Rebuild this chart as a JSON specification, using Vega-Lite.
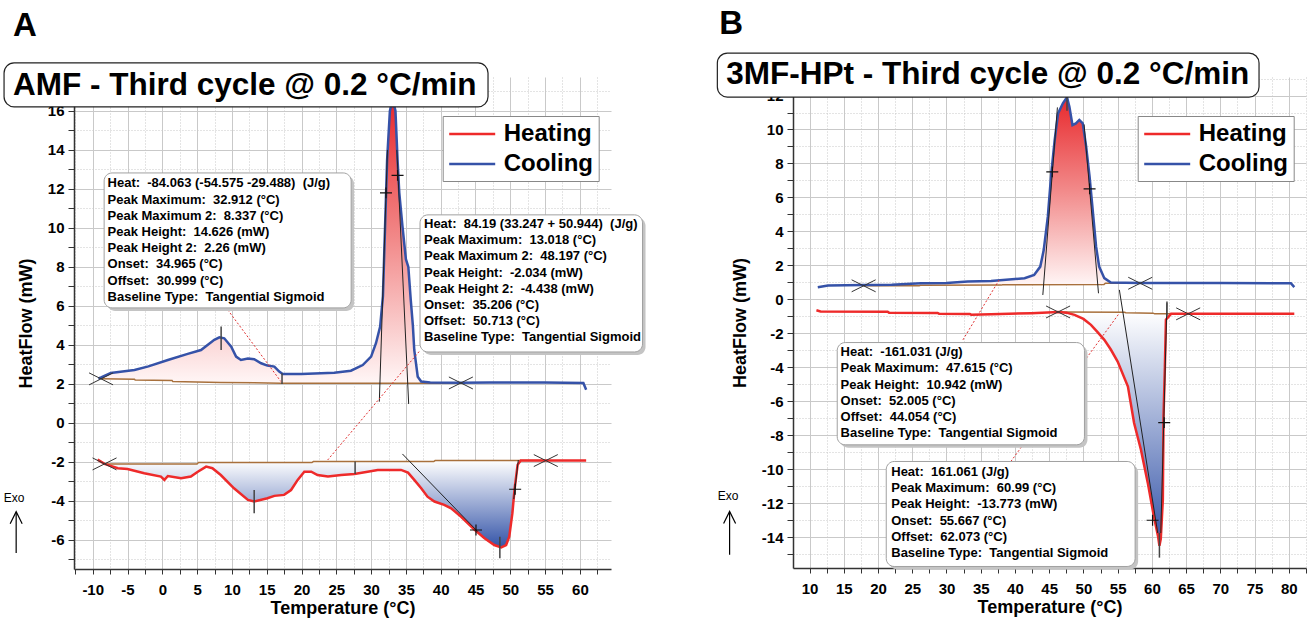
{
 "$schema": "https://vega.github.io/schema/vega-lite/v6.json",
 "background": "white",
 "autosize": {"type": "pad"},
 "padding": {"left": 3, "top": 7, "right": 4, "bottom": 4},
 "bounds": "flush",
 "spacing": 182,
 "config": {
  "font": "Liberation Sans",
  "view": {"stroke": null},
  "axis": {"labelFont": "Liberation Sans", "labelFontSize": 15, "labelFontWeight": "bold", "labelColor": "#000000", "titleFont": "Liberation Sans", "titleFontSize": 18, "titleFontWeight": "bold", "titleColor": "#000000", "domainColor": "#333333", "domainWidth": 1.5, "tickColor": "#333333", "tickWidth": 1, "gridColor": "#c9c9c9", "gridWidth": 1, "labelOverlap": false, "labelFlush": false, "labelBound": false},
  "axisX": {"tickSize": 5, "labelPadding": 8},
  "axisY": {"tickSize": 6, "labelPadding": 4, "titleAngle": -90, "titleBaseline": "alphabetic", "titleAlign": "center"}
 },
 "resolve": {"scale": {"x": "independent", "y": "independent"}, "legend": {"color": "independent"}},
 "datasets": {
  "curvesA": [
   {"s":"Cooling","T":-9.2,"V":2.28},
   {"s":"Cooling","T":-8.8,"V":2.33,"B":2.26},
   {"s":"Cooling","T":-7.4,"V":2.56,"B":2.25},
   {"s":"Cooling","T":-6.0,"V":2.62,"B":2.24},
   {"s":"Cooling","T":-4.0,"V":2.72,"B":2.22},
   {"s":"Cooling","T":-2.0,"V":2.9,"B":2.19},
   {"s":"Cooling","T":0.8,"V":3.23,"B":2.17},
   {"s":"Cooling","T":3.65,"V":3.54,"B":2.12},
   {"s":"Cooling","T":5.56,"V":3.74,"B":2.1},
   {"s":"Cooling","T":7.47,"V":4.26,"B":2.08},
   {"s":"Cooling","T":8.2,"V":4.39,"B":2.08},
   {"s":"Cooling","T":8.9,"V":4.34,"B":2.07},
   {"s":"Cooling","T":9.9,"V":3.91,"B":2.07},
   {"s":"Cooling","T":10.6,"V":3.4,"B":2.06},
   {"s":"Cooling","T":11.3,"V":3.23,"B":2.06},
   {"s":"Cooling","T":12.3,"V":3.3,"B":2.06},
   {"s":"Cooling","T":13.2,"V":3.27,"B":2.05},
   {"s":"Cooling","T":14.2,"V":3.06,"B":2.05},
   {"s":"Cooling","T":15.1,"V":2.94,"B":2.05},
   {"s":"Cooling","T":16.1,"V":2.89,"B":2.05},
   {"s":"Cooling","T":16.8,"V":2.63,"B":2.04},
   {"s":"Cooling","T":17.3,"V":2.51,"B":2.04},
   {"s":"Cooling","T":20.0,"V":2.51,"B":2.04},
   {"s":"Cooling","T":24.7,"V":2.58,"B":2.04},
   {"s":"Cooling","T":27.1,"V":2.68,"B":2.04},
   {"s":"Cooling","T":28.8,"V":2.97,"B":2.04},
   {"s":"Cooling","T":30.0,"V":3.4,"B":2.04},
   {"s":"Cooling","T":30.7,"V":4.09,"B":2.04},
   {"s":"Cooling","T":31.3,"V":4.94,"B":2.04},
   {"s":"Cooling","T":31.7,"V":6.5,"B":2.04},
   {"s":"Cooling","T":32.0,"V":10.0,"B":2.04},
   {"s":"Cooling","T":32.3,"V":13.5,"B":2.04},
   {"s":"Cooling","T":32.7,"V":16.0,"B":2.04},
   {"s":"Cooling","T":33.1,"V":16.6,"B":2.04},
   {"s":"Cooling","T":33.5,"V":16.0,"B":2.04},
   {"s":"Cooling","T":33.8,"V":13.5,"B":2.04},
   {"s":"Cooling","T":34.05,"V":11.8,"B":2.04},
   {"s":"Cooling","T":34.5,"V":10.1,"B":2.04},
   {"s":"Cooling","T":35.0,"V":8.4,"B":2.04},
   {"s":"Cooling","T":35.35,"V":8.0,"B":2.04},
   {"s":"Cooling","T":35.7,"V":6.3,"B":2.04},
   {"s":"Cooling","T":36.0,"V":5.0,"B":2.04},
   {"s":"Cooling","T":36.2,"V":3.74,"B":2.04},
   {"s":"Cooling","T":36.7,"V":2.37,"B":2.04},
   {"s":"Cooling","T":37.2,"V":2.12,"B":2.04},
   {"s":"Cooling","T":38.5,"V":2.08,"B":2.04},
   {"s":"Cooling","T":42.9,"V":2.06,"B":2.05},
   {"s":"Cooling","T":47.0,"V":2.08},
   {"s":"Cooling","T":55.0,"V":2.07},
   {"s":"Cooling","T":60.5,"V":2.05},
   {"s":"Cooling","T":60.9,"V":1.7},
   {"s":"Heating","T":-9.3,"V":-1.88},
   {"s":"Heating","T":-8.3,"V":-2.1,"B":-2.1},
   {"s":"Heating","T":-6.4,"V":-2.32,"B":-2.1},
   {"s":"Heating","T":-5.0,"V":-2.36,"B":-2.1},
   {"s":"Heating","T":-2.6,"V":-2.58,"B":-2.1},
   {"s":"Heating","T":-0.2,"V":-2.75,"B":-2.1},
   {"s":"Heating","T":0.3,"V":-2.92,"B":-2.1},
   {"s":"Heating","T":0.8,"V":-2.72,"B":-2.1},
   {"s":"Heating","T":2.7,"V":-2.84,"B":-2.1},
   {"s":"Heating","T":4.1,"V":-2.75,"B":-2.1},
   {"s":"Heating","T":5.1,"V":-2.5,"B":-2.03},
   {"s":"Heating","T":6.3,"V":-2.24,"B":-2.03},
   {"s":"Heating","T":7.2,"V":-2.32,"B":-2.03},
   {"s":"Heating","T":8.4,"V":-2.67,"B":-2.03},
   {"s":"Heating","T":10.3,"V":-3.35,"B":-2.03},
   {"s":"Heating","T":12.3,"V":-3.95,"B":-2.03},
   {"s":"Heating","T":13.2,"V":-4.03,"B":-2.03},
   {"s":"Heating","T":15.1,"V":-3.86,"B":-2.03},
   {"s":"Heating","T":16.1,"V":-3.74,"B":-2.03},
   {"s":"Heating","T":17.5,"V":-3.69,"B":-2.03},
   {"s":"Heating","T":18.5,"V":-3.44,"B":-2.03},
   {"s":"Heating","T":19.45,"V":-2.92,"B":-2.03},
   {"s":"Heating","T":20.4,"V":-2.5,"B":-2.03},
   {"s":"Heating","T":21.4,"V":-2.5,"B":-2.02},
   {"s":"Heating","T":22.3,"V":-2.67,"B":-1.98},
   {"s":"Heating","T":23.8,"V":-2.75,"B":-1.98},
   {"s":"Heating","T":25.7,"V":-2.67,"B":-1.98},
   {"s":"Heating","T":27.6,"V":-2.62,"B":-1.98},
   {"s":"Heating","T":29.5,"V":-2.5,"B":-1.98},
   {"s":"Heating","T":30.95,"V":-2.41,"B":-1.98},
   {"s":"Heating","T":34.3,"V":-2.41,"B":-1.98},
   {"s":"Heating","T":35.3,"V":-2.55,"B":-1.98},
   {"s":"Heating","T":36.2,"V":-2.92,"B":-1.98},
   {"s":"Heating","T":37.2,"V":-3.35,"B":-1.98},
   {"s":"Heating","T":38.1,"V":-3.78,"B":-1.98},
   {"s":"Heating","T":39.1,"V":-4.03,"B":-1.93},
   {"s":"Heating","T":40.5,"V":-4.2,"B":-1.93},
   {"s":"Heating","T":41.5,"V":-4.38,"B":-1.93},
   {"s":"Heating","T":42.9,"V":-4.8,"B":-1.93},
   {"s":"Heating","T":44.8,"V":-5.45,"B":-1.93},
   {"s":"Heating","T":46.3,"V":-5.91,"B":-1.93},
   {"s":"Heating","T":47.7,"V":-6.26,"B":-1.93},
   {"s":"Heating","T":48.7,"V":-6.38,"B":-1.93},
   {"s":"Heating","T":49.4,"V":-6.26,"B":-1.93},
   {"s":"Heating","T":49.85,"V":-5.83,"B":-1.93},
   {"s":"Heating","T":50.3,"V":-4.63,"B":-1.93},
   {"s":"Heating","T":50.6,"V":-3.44,"B":-1.93},
   {"s":"Heating","T":51.05,"V":-2.15,"B":-1.93},
   {"s":"Heating","T":51.5,"V":-1.93,"B":-1.93},
   {"s":"Heating","T":55.1,"V":-1.93,"B":-1.93},
   {"s":"Heating","T":60.9,"V":-1.93}
  ],
  "baseA": [
   {"s":"Cooling","T":-8.8,"V":2.26},{"s":"Cooling","T":-4.0,"V":2.24},{"s":"Cooling","T":-3.9,"V":2.2},{"s":"Cooling","T":1.4,"V":2.18},{"s":"Cooling","T":1.5,"V":2.13},{"s":"Cooling","T":8.4,"V":2.08},{"s":"Cooling","T":17.0,"V":2.04},{"s":"Cooling","T":40.0,"V":2.04},{"s":"Cooling","T":42.9,"V":2.05},
   {"s":"Heating","T":-8.3,"V":-2.1},{"s":"Heating","T":5.0,"V":-2.1},{"s":"Heating","T":5.2,"V":-2.03},{"s":"Heating","T":21.5,"V":-2.03},{"s":"Heating","T":21.7,"V":-1.98},{"s":"Heating","T":39.0,"V":-1.98},{"s":"Heating","T":39.2,"V":-1.93},{"s":"Heating","T":55.1,"V":-1.93}
  ],
  "segA": [
   {"k":"tan","T":31.18,"V":1.09,"T2":32.35,"V2":14.0},
   {"k":"tan","T":35.4,"V":0.97,"T2":33.7,"V2":14.0},
   {"k":"tan","T":34.5,"V":-1.59,"T2":45.3,"V2":-5.57},
   {"k":"tan","T":51.15,"V":-1.9,"T2":50.5,"V2":-3.9},
   {"k":"vm","T":8.45,"V":3.74,"T2":8.45,"V2":4.94},
   {"k":"vm","T":17.2,"V":2.0,"T2":17.2,"V2":2.55},
   {"k":"vm","T":13.2,"V":-3.44,"T2":13.2,"V2":-4.63},
   {"k":"vm","T":27.7,"V":-1.98,"T2":27.7,"V2":-2.62},
   {"k":"vm","T":48.5,"V":-5.83,"T2":48.5,"V2":-6.94},
   {"k":"dot","T":9.4,"V":5.8,"T2":17.05,"V2":2.12},
   {"k":"dot","T":36.9,"V":3.66,"T2":23.76,"V2":-1.9},
   {"k":"arrow","T":-21.0,"V":-6.67,"T2":-21.0,"V2":-4.6}
  ],
  "ptsA": [
   {"k":"x","T":-8.8,"V":2.26},{"k":"x","T":42.9,"V":2.05},{"k":"x","T":-8.3,"V":-2.1},{"k":"x","T":55.1,"V":-1.93},
   {"k":"plus","T":32.14,"V":11.8},{"k":"plus","T":33.8,"V":12.7},{"k":"plus","T":45.07,"V":-5.49},{"k":"plus","T":50.7,"V":-3.4},
   {"k":"head","T":-21.0,"V":-4.55}
  ],
  "boxA": [
   {"k":"title","T":-22.74,"V":18.46,"T2":46.8,"V2":16.21},
   {"k":"note","T":-8.36,"V":12.82,"T2":27.13,"V2":5.9},
   {"k":"note","T":37.03,"V":10.67,"T2":69.0,"V2":3.64}
  ],
  "txtA": [
   {"k":"title","T":-21.45,"V":17.28,"text":"AMF - Third cycle @ 0.2 °C/min"},
   {"k":"letter","T":-21.45,"V":20.38,"text":"A"},
   {"k":"exo","T":-21.3,"V":-3.83,"text":"Exo"},
   {"k":"note","T":-7.87,"V":12.59,"text":"Heat:\u00a0 -84.063 (-54.575 -29.488)\u00a0 (J/g)\nPeak Maximum:\u00a0 32.912 (°C)\nPeak Maximum 2:\u00a0 8.337 (°C)\nPeak Height:\u00a0 14.626 (mW)\nPeak Height 2:\u00a0 2.26 (mW)\nOnset:\u00a0 34.965 (°C)\nOffset:\u00a0 30.999 (°C)\nBaseline Type:\u00a0 Tangential Sigmoid"},
   {"k":"note","T":37.6,"V":10.51,"text":"Heat:\u00a0 84.19 (33.247 + 50.944)\u00a0 (J/g)\nPeak Maximum:\u00a0 13.018 (°C)\nPeak Maximum 2:\u00a0 48.197 (°C)\nPeak Height:\u00a0 -2.034 (mW)\nPeak Height 2:\u00a0 -4.438 (mW)\nOnset:\u00a0 35.206 (°C)\nOffset:\u00a0 50.713 (°C)\nBaseline Type:\u00a0 Tangential Sigmoid"}
  ],
  "curvesB": [
   {"s":"Cooling","T":11.2,"V":0.72},
   {"s":"Cooling","T":12.7,"V":0.82},
   {"s":"Cooling","T":17.9,"V":0.84,"B":0.8},
   {"s":"Cooling","T":22.0,"V":0.86,"B":0.8},
   {"s":"Cooling","T":26.3,"V":0.95,"B":0.82},
   {"s":"Cooling","T":30.0,"V":0.97,"B":0.83},
   {"s":"Cooling","T":33.1,"V":1.05,"B":0.84},
   {"s":"Cooling","T":36.5,"V":1.08,"B":0.85},
   {"s":"Cooling","T":41.4,"V":1.25,"B":0.86},
   {"s":"Cooling","T":42.8,"V":1.44,"B":0.86},
   {"s":"Cooling","T":43.7,"V":1.93,"B":0.86},
   {"s":"Cooling","T":44.2,"V":2.9,"B":0.86},
   {"s":"Cooling","T":44.8,"V":4.87,"B":0.86},
   {"s":"Cooling","T":45.3,"V":7.4,"B":0.86},
   {"s":"Cooling","T":45.8,"V":9.38,"B":0.86},
   {"s":"Cooling","T":46.3,"V":10.95,"B":0.86},
   {"s":"Cooling","T":47.0,"V":11.54,"B":0.86},
   {"s":"Cooling","T":47.6,"V":11.9,"B":0.86},
   {"s":"Cooling","T":47.95,"V":11.34,"B":0.86},
   {"s":"Cooling","T":48.4,"V":10.26,"B":0.86},
   {"s":"Cooling","T":48.9,"V":10.36,"B":0.86},
   {"s":"Cooling","T":49.4,"V":10.56,"B":0.86},
   {"s":"Cooling","T":49.9,"V":10.36,"B":0.86},
   {"s":"Cooling","T":50.4,"V":8.99,"B":0.86},
   {"s":"Cooling","T":50.9,"V":7.22,"B":0.86},
   {"s":"Cooling","T":51.4,"V":5.07,"B":0.86},
   {"s":"Cooling","T":51.85,"V":3.1,"B":0.86},
   {"s":"Cooling","T":52.3,"V":1.93,"B":0.86},
   {"s":"Cooling","T":53.05,"V":1.25,"B":0.88},
   {"s":"Cooling","T":54.0,"V":0.99,"B":0.94},
   {"s":"Cooling","T":58.3,"V":0.97,"B":0.95},
   {"s":"Cooling","T":70.0,"V":0.97},
   {"s":"Cooling","T":80.3,"V":0.95},
   {"s":"Cooling","T":80.8,"V":0.72},
   {"s":"Heating","T":11.0,"V":-0.64},
   {"s":"Heating","T":11.6,"V":-0.71},
   {"s":"Heating","T":21.4,"V":-0.73},
   {"s":"Heating","T":21.6,"V":-0.78},
   {"s":"Heating","T":28.7,"V":-0.8},
   {"s":"Heating","T":28.9,"V":-0.84},
   {"s":"Heating","T":33.4,"V":-0.86},
   {"s":"Heating","T":33.6,"V":-0.9},
   {"s":"Heating","T":36.5,"V":-0.88},
   {"s":"Heating","T":42.4,"V":-0.81},
   {"s":"Heating","T":46.3,"V":-0.74,"B":-0.74},
   {"s":"Heating","T":47.5,"V":-0.78,"B":-0.74},
   {"s":"Heating","T":48.7,"V":-0.91,"B":-0.75},
   {"s":"Heating","T":50.0,"V":-1.15,"B":-0.75},
   {"s":"Heating","T":51.1,"V":-1.5,"B":-0.75},
   {"s":"Heating","T":52.0,"V":-1.9,"B":-0.76},
   {"s":"Heating","T":53.05,"V":-2.38,"B":-0.76},
   {"s":"Heating","T":54.0,"V":-2.95,"B":-0.76},
   {"s":"Heating","T":55.0,"V":-3.66,"B":-0.77},
   {"s":"Heating","T":56.5,"V":-5.13,"B":-0.78},
   {"s":"Heating","T":57.4,"V":-7.28,"B":-0.79},
   {"s":"Heating","T":58.4,"V":-8.85,"B":-0.8},
   {"s":"Heating","T":59.4,"V":-10.8,"B":-0.8},
   {"s":"Heating","T":60.3,"V":-12.8,"B":-0.81},
   {"s":"Heating","T":60.9,"V":-13.95,"B":-0.82},
   {"s":"Heating","T":61.1,"V":-14.5,"B":-0.82},
   {"s":"Heating","T":61.3,"V":-14.1,"B":-0.82},
   {"s":"Heating","T":61.6,"V":-11.8,"B":-0.83},
   {"s":"Heating","T":61.7,"V":-6.9,"B":-0.83},
   {"s":"Heating","T":61.9,"V":-3.95,"B":-0.84},
   {"s":"Heating","T":62.05,"V":-1.2,"B":-0.84},
   {"s":"Heating","T":62.8,"V":-0.85,"B":-0.85},
   {"s":"Heating","T":65.3,"V":-0.85,"B":-0.85},
   {"s":"Heating","T":80.8,"V":-0.85}
  ],
  "baseB": [
   {"s":"Cooling","T":17.9,"V":0.8},{"s":"Cooling","T":26.0,"V":0.8},{"s":"Cooling","T":26.2,"V":0.83},{"s":"Cooling","T":38.0,"V":0.84},{"s":"Cooling","T":38.2,"V":0.86},{"s":"Cooling","T":53.0,"V":0.87},{"s":"Cooling","T":53.2,"V":0.95},{"s":"Cooling","T":58.3,"V":0.95},
   {"s":"Heating","T":46.3,"V":-0.74},{"s":"Heating","T":56.0,"V":-0.76},{"s":"Heating","T":56.2,"V":-0.79},{"s":"Heating","T":60.2,"V":-0.81},{"s":"Heating","T":60.4,"V":-0.85},{"s":"Heating","T":65.3,"V":-0.85}
  ],
  "segB": [
   {"k":"tan","T":44.07,"V":0.26,"T2":46.2,"V2":11.3},
   {"k":"tan","T":52.2,"V":0.36,"T2":50.1,"V2":10.3},
   {"k":"tan","T":55.25,"V":0.56,"T2":60.85,"V2":-13.75},
   {"k":"tan","T":62.2,"V":-0.22,"T2":61.3,"V2":-13.75},
   {"k":"vm","T":47.6,"V":11.1,"T2":47.6,"V2":12.9},
   {"k":"vm","T":61.1,"V":-13.75,"T2":61.1,"V2":-15.2},
   {"k":"vm","T":62.2,"V":-0.13,"T2":62.2,"V2":-1.0},
   {"k":"dot","T":32.4,"V":-2.38,"T2":37.7,"V2":1.15},
   {"k":"dot","T":39.4,"V":-9.54,"T2":55.25,"V2":-0.81},
   {"k":"arrow","T":-1.68,"V":-15.03,"T2":-1.68,"V2":-12.52}
  ],
  "ptsB": [
   {"k":"x","T":17.9,"V":0.8},{"k":"x","T":58.3,"V":0.95},{"k":"x","T":46.3,"V":-0.74},{"k":"x","T":65.3,"V":-0.85},
   {"k":"plus","T":45.45,"V":7.5},{"k":"plus","T":50.9,"V":6.5},{"k":"plus","T":60.1,"V":-13.0},{"k":"plus","T":61.8,"V":-7.25},
   {"k":"head","T":-1.68,"V":-12.48}
  ],
  "boxB": [
   {"k":"title","T":-3.47,"V":14.5,"T2":75.65,"V2":11.91},
   {"k":"note","T":14.04,"V":-2.54,"T2":50.15,"V2":-8.56},
   {"k":"note","T":21.2,"V":-9.54,"T2":57.55,"V2":-15.72}
  ],
  "txtB": [
   {"k":"title","T":-2.17,"V":13.21,"text":"3MF-HPt - Third cycle @ 0.2 °C/min"},
   {"k":"letter","T":-3.18,"V":16.21,"text":"B"},
   {"k":"exo","T":-1.91,"V":-11.6,"text":"Exo"},
   {"k":"note","T":14.53,"V":-2.75,"text":"Heat:\u00a0 -161.031 (J/g)\nPeak Maximum:\u00a0 47.615 (°C)\nPeak Height:\u00a0 10.942 (mW)\nOnset:\u00a0 52.005 (°C)\nOffset:\u00a0 44.054 (°C)\nBaseline Type:\u00a0 Tangential Sigmoid"},
   {"k":"note","T":21.93,"V":-9.81,"text":"Heat:\u00a0 161.061 (J/g)\nPeak Maximum:\u00a0 60.99 (°C)\nPeak Height:\u00a0 -13.773 (mW)\nOnset:\u00a0 55.667 (°C)\nOffset:\u00a0 62.073 (°C)\nBaseline Type:\u00a0 Tangential Sigmoid"}
  ]
 },
 "hconcat": [
  {
   "width": 537, "height": 492,
   "encoding": {
    "x": {"field": "T", "type": "quantitative", "scale": {"domain": [-12.69, 64.47], "nice": false, "zero": false},
     "axis": {"title": "Temperature (°C)", "values": [-12.5,-10,-7.5,-5,-2.5,0,2.5,5,7.5,10,12.5,15,17.5,20,22.5,25,27.5,30,32.5,35,37.5,40,42.5,45,47.5,50,52.5,55,57.5,60,62.5],
      "labelExpr": "datum.value % 5 === 0 ? '' + datum.value : ''",
      "gridDash": {"condition": {"test": "datum.value % 5 !== 0", "value": [1, 2]}, "value": []},
      "titleY": 44.5, "titleBaseline": "alphabetic"}},
    "y": {"field": "V", "type": "quantitative", "scale": {"domain": [-7.49, 17.74], "nice": false, "zero": false},
     "axis": {"title": "HeatFlow (mW)", "values": [-7,-6,-5,-4,-3,-2,-1,0,1,2,3,4,5,6,7,8,9,10,11,12,13,14,15,16,17],
      "labelExpr": "datum.value % 2 === 0 ? '' + datum.value : ''",
      "gridDash": {"condition": {"test": "datum.value % 2 !== 0", "value": [1, 2]}, "value": []},
      "titleX": -43, "titleY": 246}}
   },
   "layer": [
    {"data": {"name": "curvesA"}, "transform": [{"filter": "datum.s === 'Cooling' && isValid(datum.B)"}],
     "mark": {"type": "area", "fill": {"gradient": "linear", "x1": 0, "y1": 0, "x2": 0, "y2": 1, "stops": [{"offset": 0, "color": "#e8282c"}, {"offset": 0.5, "color": "#f28b8b"}, {"offset": 1, "color": "#fff6f6"}]}},
     "encoding": {"y2": {"field": "B"}}},
    {"data": {"name": "curvesA"}, "transform": [{"filter": "datum.s === 'Heating' && isValid(datum.B)"}],
     "mark": {"type": "area", "fill": {"gradient": "linear", "x1": 0, "y1": 0, "x2": 0, "y2": 1, "stops": [{"offset": 0, "color": "#ffffff"}, {"offset": 1, "color": "#3454a8"}]}},
     "encoding": {"y2": {"field": "B"}}},
    {"data": {"name": "baseA"}, "mark": {"type": "line", "stroke": "#a8703c", "strokeWidth": 1.5}, "encoding": {"detail": {"field": "s"}}},
    {"data": {"name": "curvesA"}, "mark": {"type": "line", "strokeWidth": 2.5},
     "encoding": {"color": {"field": "s", "type": "nominal", "scale": {"domain": ["Heating", "Cooling"], "range": ["#ee2a2a", "#3552a8"]},
      "legend": {"orient": "none", "legendX": 368.7, "legendY": 39, "title": null, "symbolType": "M-1,0L3,0", "symbolSize": 529, "symbolStrokeWidth": 2.5, "labelFontSize": 24, "labelFontWeight": "bold", "labelFont": "Liberation Sans", "labelColor": "#000000", "labelOffset": 30, "rowPadding": 5, "padding": 5, "strokeColor": "#888888", "fillColor": "white"}}}},
    {"data": {"name": "segA"}, "transform": [{"filter": "datum.k === 'tan'"}], "mark": {"type": "rule", "stroke": "#222222", "strokeWidth": 1}, "encoding": {"x2": {"field": "T2"}, "y2": {"field": "V2"}}},
    {"data": {"name": "segA"}, "transform": [{"filter": "datum.k === 'vm'"}], "mark": {"type": "rule", "stroke": "#444444", "strokeWidth": 1.5}, "encoding": {"x2": {"field": "T2"}, "y2": {"field": "V2"}}},
    {"data": {"name": "segA"}, "transform": [{"filter": "datum.k === 'dot'"}], "mark": {"type": "rule", "stroke": "#e03030", "strokeWidth": 1, "strokeDash": [2, 2]}, "encoding": {"x2": {"field": "T2"}, "y2": {"field": "V2"}}},
    {"data": {"name": "ptsA"}, "transform": [{"filter": "datum.k === 'x'"}], "mark": {"type": "point", "shape": "M-1,-0.5L1,0.5M-1,0.5L1,-0.5", "size": 576, "filled": false, "stroke": "#333333", "strokeWidth": 1, "opacity": 1}},
    {"data": {"name": "ptsA"}, "transform": [{"filter": "datum.k === 'plus'"}], "mark": {"type": "point", "shape": "M-1,0L1,0M0,-0.9L0,0.9", "size": 144, "filled": false, "stroke": "#111111", "strokeWidth": 1.2, "opacity": 1}},
    {"data": {"name": "boxA"}, "transform": [{"filter": "datum.k === 'note'"}], "mark": {"type": "rect", "fill": "#c4c4c4", "cornerRadius": 8, "xOffset": 3, "x2Offset": 3, "yOffset": 3, "y2Offset": 3}, "encoding": {"x2": {"field": "T2"}, "y2": {"field": "V2"}}},
    {"data": {"name": "boxA"}, "transform": [{"filter": "datum.k === 'note'"}], "mark": {"type": "rect", "fill": "white", "stroke": "#a0a0a0", "strokeWidth": 1, "cornerRadius": 8}, "encoding": {"x2": {"field": "T2"}, "y2": {"field": "V2"}}},
    {"data": {"name": "txtA"}, "transform": [{"filter": "datum.k === 'note'"}], "mark": {"type": "text", "align": "left", "baseline": "top", "font": "Liberation Sans", "fontSize": 13, "fontWeight": "bold", "lineBreak": "\n", "lineHeight": 16.2, "color": "#000000"}, "encoding": {"text": {"field": "text"}}},
    {"data": {"name": "boxA"}, "transform": [{"filter": "datum.k === 'title'"}], "mark": {"type": "rect", "fill": "white", "stroke": "#222222", "strokeWidth": 1.2, "cornerRadius": 10}, "encoding": {"x2": {"field": "T2"}, "y2": {"field": "V2"}}},
    {"data": {"name": "txtA"}, "transform": [{"filter": "datum.k === 'title'"}], "mark": {"type": "text", "align": "left", "baseline": "middle", "font": "Liberation Sans", "fontSize": 31.5, "fontWeight": "bold", "color": "#000000"}, "encoding": {"text": {"field": "text"}}},
    {"data": {"name": "txtA"}, "transform": [{"filter": "datum.k === 'letter'"}], "mark": {"type": "text", "align": "left", "baseline": "middle", "font": "Liberation Sans", "fontSize": 33, "fontWeight": "bold", "color": "#000000"}, "encoding": {"text": {"field": "text"}}},
    {"data": {"name": "txtA"}, "transform": [{"filter": "datum.k === 'exo'"}], "mark": {"type": "text", "align": "center", "baseline": "middle", "font": "Liberation Sans", "fontSize": 12, "color": "#000000"}, "encoding": {"text": {"field": "text"}}},
    {"data": {"name": "segA"}, "transform": [{"filter": "datum.k === 'arrow'"}], "mark": {"type": "rule", "stroke": "#000000", "strokeWidth": 1.2}, "encoding": {"x2": {"field": "T2"}, "y2": {"field": "V2"}}},
    {"data": {"name": "ptsA"}, "transform": [{"filter": "datum.k === 'head'"}], "mark": {"type": "point", "shape": "M-0.5,1L0,0L0.5,1", "size": 576, "filled": false, "stroke": "#000000", "strokeWidth": 1.2, "opacity": 1}}
   ]
  },
  {
   "width": 513, "height": 491,
   "encoding": {
    "x": {"field": "T", "type": "quantitative", "scale": {"domain": [7.58, 82.51], "nice": false, "zero": false},
     "axis": {"title": "Temperature (°C)", "values": [7.5,10,12.5,15,17.5,20,22.5,25,27.5,30,32.5,35,37.5,40,42.5,45,47.5,50,52.5,55,57.5,60,62.5,65,67.5,70,72.5,75,77.5,80,82.5],
      "labelExpr": "datum.value % 5 === 0 ? '' + datum.value : ''",
      "gridDash": {"condition": {"test": "datum.value % 5 !== 0", "value": [1, 2]}, "value": []},
      "titleY": 44.5, "titleBaseline": "alphabetic"}},
    "y": {"field": "V", "type": "quantitative", "scale": {"domain": [-15.81, 13.09], "nice": false, "zero": false},
     "axis": {"title": "HeatFlow (mW)", "values": [-15,-14,-13,-12,-11,-10,-9,-8,-7,-6,-5,-4,-3,-2,-1,0,1,2,3,4,5,6,7,8,9,10,11,12,13],
      "labelExpr": "datum.value % 2 === 0 ? '' + datum.value : ''",
      "gridDash": {"condition": {"test": "datum.value % 2 !== 0", "value": [1, 2]}, "value": []},
      "titleX": -48, "titleY": 245.5}}
   },
   "layer": [
    {"data": {"name": "curvesB"}, "transform": [{"filter": "datum.s === 'Cooling' && isValid(datum.B)"}],
     "mark": {"type": "area", "fill": {"gradient": "linear", "x1": 0, "y1": 0, "x2": 0, "y2": 1, "stops": [{"offset": 0, "color": "#e8282c"}, {"offset": 0.5, "color": "#f28b8b"}, {"offset": 1, "color": "#fff6f6"}]}},
     "encoding": {"y2": {"field": "B"}}},
    {"data": {"name": "curvesB"}, "transform": [{"filter": "datum.s === 'Heating' && isValid(datum.B)"}],
     "mark": {"type": "area", "fill": {"gradient": "linear", "x1": 0, "y1": 0, "x2": 0, "y2": 1, "stops": [{"offset": 0, "color": "#ffffff"}, {"offset": 1, "color": "#3454a8"}]}},
     "encoding": {"y2": {"field": "B"}}},
    {"data": {"name": "baseB"}, "mark": {"type": "line", "stroke": "#a8703c", "strokeWidth": 1.5}, "encoding": {"detail": {"field": "s"}}},
    {"data": {"name": "curvesB"}, "mark": {"type": "line", "strokeWidth": 2.5},
     "encoding": {"color": {"field": "s", "type": "nominal", "scale": {"domain": ["Heating", "Cooling"], "range": ["#ee2a2a", "#3552a8"]},
      "legend": {"orient": "none", "legendX": 344.7, "legendY": 39, "title": null, "symbolType": "M-1,0L3,0", "symbolSize": 529, "symbolStrokeWidth": 2.5, "labelFontSize": 24, "labelFontWeight": "bold", "labelFont": "Liberation Sans", "labelColor": "#000000", "labelOffset": 30, "rowPadding": 5, "padding": 5, "strokeColor": "#888888", "fillColor": "white"}}}},
    {"data": {"name": "segB"}, "transform": [{"filter": "datum.k === 'tan'"}], "mark": {"type": "rule", "stroke": "#222222", "strokeWidth": 1}, "encoding": {"x2": {"field": "T2"}, "y2": {"field": "V2"}}},
    {"data": {"name": "segB"}, "transform": [{"filter": "datum.k === 'vm'"}], "mark": {"type": "rule", "stroke": "#444444", "strokeWidth": 1.5}, "encoding": {"x2": {"field": "T2"}, "y2": {"field": "V2"}}},
    {"data": {"name": "segB"}, "transform": [{"filter": "datum.k === 'dot'"}], "mark": {"type": "rule", "stroke": "#e03030", "strokeWidth": 1, "strokeDash": [2, 2]}, "encoding": {"x2": {"field": "T2"}, "y2": {"field": "V2"}}},
    {"data": {"name": "ptsB"}, "transform": [{"filter": "datum.k === 'x'"}], "mark": {"type": "point", "shape": "M-1,-0.5L1,0.5M-1,0.5L1,-0.5", "size": 576, "filled": false, "stroke": "#333333", "strokeWidth": 1, "opacity": 1}},
    {"data": {"name": "ptsB"}, "transform": [{"filter": "datum.k === 'plus'"}], "mark": {"type": "point", "shape": "M-1,0L1,0M0,-0.9L0,0.9", "size": 144, "filled": false, "stroke": "#111111", "strokeWidth": 1.2, "opacity": 1}},
    {"data": {"name": "boxB"}, "transform": [{"filter": "datum.k === 'note'"}], "mark": {"type": "rect", "fill": "#c4c4c4", "cornerRadius": 8, "xOffset": 3, "x2Offset": 3, "yOffset": 3, "y2Offset": 3}, "encoding": {"x2": {"field": "T2"}, "y2": {"field": "V2"}}},
    {"data": {"name": "boxB"}, "transform": [{"filter": "datum.k === 'note'"}], "mark": {"type": "rect", "fill": "white", "stroke": "#a0a0a0", "strokeWidth": 1, "cornerRadius": 8}, "encoding": {"x2": {"field": "T2"}, "y2": {"field": "V2"}}},
    {"data": {"name": "txtB"}, "transform": [{"filter": "datum.k === 'note'"}], "mark": {"type": "text", "align": "left", "baseline": "top", "font": "Liberation Sans", "fontSize": 13, "fontWeight": "bold", "lineBreak": "\n", "lineHeight": 16.2, "color": "#000000"}, "encoding": {"text": {"field": "text"}}},
    {"data": {"name": "boxB"}, "transform": [{"filter": "datum.k === 'title'"}], "mark": {"type": "rect", "fill": "white", "stroke": "#222222", "strokeWidth": 1.2, "cornerRadius": 10}, "encoding": {"x2": {"field": "T2"}, "y2": {"field": "V2"}}},
    {"data": {"name": "txtB"}, "transform": [{"filter": "datum.k === 'title'"}], "mark": {"type": "text", "align": "left", "baseline": "middle", "font": "Liberation Sans", "fontSize": 31.5, "fontWeight": "bold", "color": "#000000"}, "encoding": {"text": {"field": "text"}}},
    {"data": {"name": "txtB"}, "transform": [{"filter": "datum.k === 'letter'"}], "mark": {"type": "text", "align": "left", "baseline": "middle", "font": "Liberation Sans", "fontSize": 33, "fontWeight": "bold", "color": "#000000"}, "encoding": {"text": {"field": "text"}}},
    {"data": {"name": "txtB"}, "transform": [{"filter": "datum.k === 'exo'"}], "mark": {"type": "text", "align": "center", "baseline": "middle", "font": "Liberation Sans", "fontSize": 12, "color": "#000000"}, "encoding": {"text": {"field": "text"}}},
    {"data": {"name": "segB"}, "transform": [{"filter": "datum.k === 'arrow'"}], "mark": {"type": "rule", "stroke": "#000000", "strokeWidth": 1.2}, "encoding": {"x2": {"field": "T2"}, "y2": {"field": "V2"}}},
    {"data": {"name": "ptsB"}, "transform": [{"filter": "datum.k === 'head'"}], "mark": {"type": "point", "shape": "M-0.5,1L0,0L0.5,1", "size": 576, "filled": false, "stroke": "#000000", "strokeWidth": 1.2, "opacity": 1}}
   ]
  }
 ]
}
